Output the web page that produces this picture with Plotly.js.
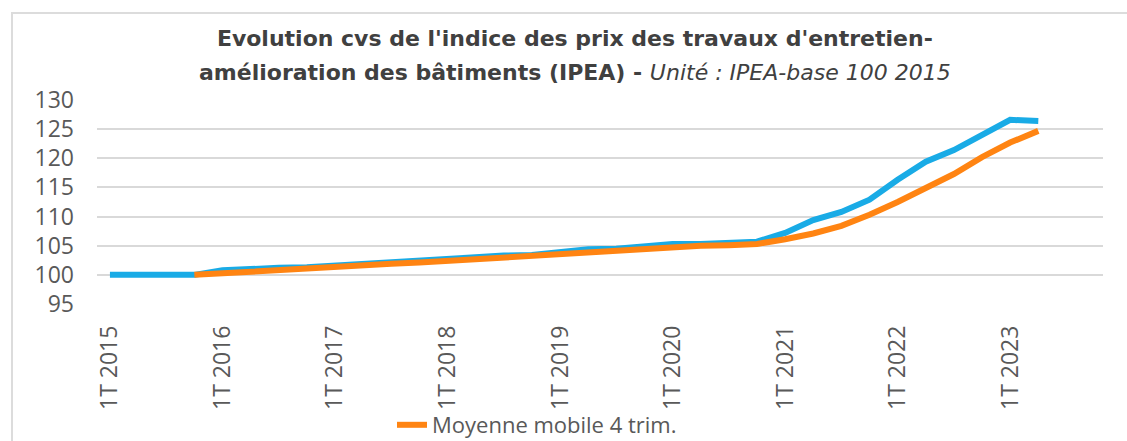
<!DOCTYPE html>
<html>
<head>
<meta charset="utf-8">
<script src="https://cdn.plot.ly/plotly-3.0.1.min.js"></script>
<style>
  html, body { margin: 0; padding: 0; background: #ffffff; overflow: hidden; }
  #wrap { position: relative; width: 1127px; height: 441px; }
  #chart { position: absolute; left: 0; top: 0; width: 1127px; height: 441px; }
  #frame { position: absolute; left: 11px; top: 12px; width: 1300px; height: 600px;
           border: 2px solid #dcdcdc; pointer-events: none; box-sizing: border-box; }
</style>
</head>
<body>
<div id="wrap">
  <div id="chart"></div>
  <div id="frame"></div>
</div>
<script>
const quarters = [
  "1T 2015","2T 2015","3T 2015","4T 2015",
  "1T 2016","2T 2016","3T 2016","4T 2016",
  "1T 2017","2T 2017","3T 2017","4T 2017",
  "1T 2018","2T 2018","3T 2018","4T 2018",
  "1T 2019","2T 2019","3T 2019","4T 2019",
  "1T 2020","2T 2020","3T 2020","4T 2020",
  "1T 2021","2T 2021","3T 2021","4T 2021",
  "1T 2022","2T 2022","3T 2022","4T 2022",
  "1T 2023","2T 2023"
];
const tickLabels = ["1T 2015","1T 2016","1T 2017","1T 2018","1T 2019","1T 2020","1T 2021","1T 2022","1T 2023"];
const ipea = [
  100, 100, 100, 100,
  100.8, 101.1, 101.2, 101.3,
  101.6, 101.9, 102.3, 102.5,
  102.8, 103.2, 103.3, 103.4,
  104.0, 104.4, 104.5, 104.9,
  105.3, 105.3, 105.4, 105.7,
  107.2, 109.4, 110.8, 112.9,
  116.3, 119.4, 121.4, 124.0,
  126.6, 126.4
];
const moyenneMobile = [
  null, null, null, 100.0,
  100.3, 100.6, 100.9, 101.1,
  101.3, 101.6, 101.9, 102.1,
  102.4, 102.7, 102.9, 103.1,
  103.4, 103.7, 104.0, 104.4,
  104.8, 105.0, 105.1, 105.3,
  106.1, 107.1, 108.4, 110.3,
  112.5, 115.0, 117.3, 120.2,
  122.7, 124.7
];
const yTicks = [95, 100, 105, 110, 115, 120, 125, 130];

const traces = [
  {
    x: quarters, y: ipea, type: 'scatter', mode: 'lines', name: 'IPEA',
    line: { color: '#19abe6', width: 6 }, showlegend: false
  },
  {
    x: quarters, y: moyenneMobile, type: 'scatter', mode: 'lines', name: 'Moyenne mobile 4 trim.',
    line: { color: '#ff8412', width: 6 }, connectgaps: false
  }
];

const titleFont = { family: '"DejaVu Sans", Roboto, sans-serif', size: 22, color: '#404040' };
const tickFont = '"Open Sans", "Liberation Sans", sans-serif';

const layout = {
  width: 1127, height: 441,
  margin: { l: 97, r: 24, t: 100, b: 137 },
  paper_bgcolor: 'rgba(0,0,0,0)', plot_bgcolor: 'rgba(0,0,0,0)',
  title: {
    text: "<b>Evolution cvs de l'indice des prix des travaux d'entretien-</b>",
    font: titleFont,
    x: 0.475, xanchor: 'center', xref: 'paper',
    y: 1 - 38 / 441, yanchor: 'middle', yref: 'container'
  },
  annotations: [{
    text: "<b>amélioration des bâtiments (IPEA) - </b><i>Unité : IPEA-base 100 2015</i>",
    font: titleFont,
    xref: 'paper', yref: 'paper', x: 0.475, y: 1 + (100 - 72) / 204,
    xanchor: 'center', yanchor: 'middle', showarrow: false
  }],
  xaxis: {
    type: 'category', categoryorder: 'array', categoryarray: quarters,
    range: [-0.46, 35.3], automargin: false,
    tickmode: 'array', tickvals: tickLabels, ticktext: tickLabels,
    tickangle: -90,
    tickfont: { family: tickFont, size: 23, color: '#595959' },
    ticks: '', ticklabelstandoff: 16,
    showgrid: false, zeroline: false, showline: false, fixedrange: true
  },
  yaxis: {
    range: [95, 130], tickmode: 'array', tickvals: yTicks, automargin: false,
    tickfont: { family: tickFont, size: 23, color: '#595959' },
    ticks: '', ticklabelstandoff: 22,
    showgrid: true, gridcolor: '#d9d9d9', gridwidth: 2,
    zeroline: false, showline: false, fixedrange: true
  },
  showlegend: true,
  legend: {
    orientation: 'h', x: 392 / 1127, xref: 'container', xanchor: 'left',
    y: (441 - 425) / 441, yref: 'container', yanchor: 'middle',
    font: { family: tickFont, size: 22, color: '#595959' },
    bgcolor: 'rgba(0,0,0,0)'
  }
};

Plotly.newPlot('chart', traces, layout, { displayModeBar: false, staticPlot: true });
</script>
</body>
</html>
